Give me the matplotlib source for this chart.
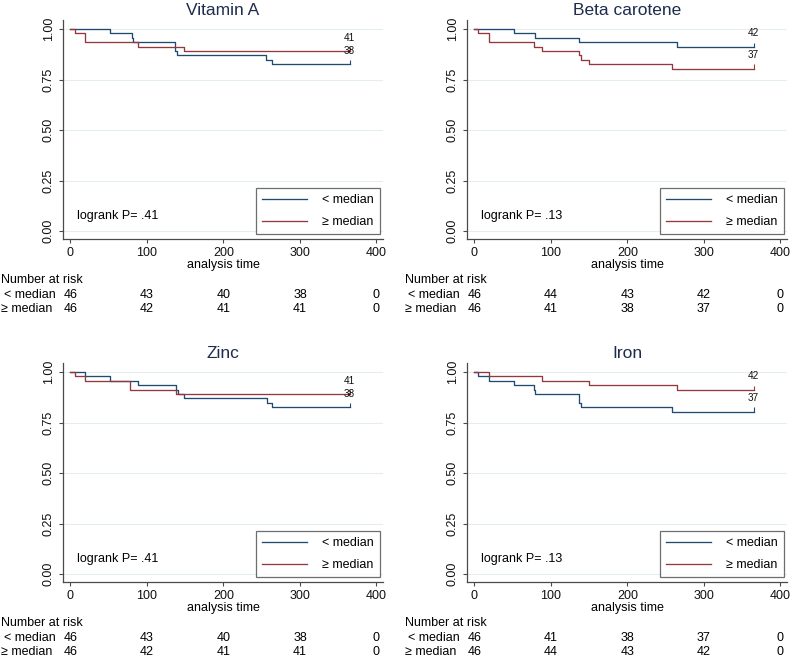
import matplotlib
matplotlib.use("Agg")
import matplotlib.pyplot as plt
import numpy as np

plt.rcParams['font.family'] = ['Liberation Sans', 'DejaVu Sans']

# ---------------- data ----------------
N_START = 46
END_TIME = 365
risk_times = [0, 100, 200, 300, 400]
group_labels = ["< median", "\u2265 median"]

titles = ["Vitamin A", "Beta carotene", "Zinc", "Iron"]
logrank_p = [".41", ".13", ".41", ".13"]

# event times (each entry = one event) per group: (< median, >= median)
vita_low = [52, 80, 82, 137, 137, 140, 256, 264]
vita_high = [6.5, 19.5, 19.5, 88, 149]
beta_low = [51.5, 79.6, 136.8, 264.5]
beta_high = [5, 18.8, 18.8, 78, 88, 137, 139, 149.5, 258.8]
zinc_low = [19.5, 52, 88, 137.6, 141, 149, 257, 264]
zinc_high = [6.5, 19.5, 78, 78, 137.6]
iron_low = [5, 18.8, 51.5, 78, 79.6, 137, 137, 139, 258.8]
iron_high = [18.8, 88, 149.5, 264.5]

# number at risk tables (< median, >= median)
vita_risk_low = [46, 43, 40, 38, 0]
vita_risk_high = [46, 42, 41, 41, 0]
beta_risk_low = [46, 44, 43, 42, 0]
beta_risk_high = [46, 41, 38, 37, 0]
zinc_risk_low = [46, 43, 40, 38, 0]
zinc_risk_high = [46, 42, 41, 41, 0]
iron_risk_low = [46, 41, 38, 37, 0]
iron_risk_high = [46, 44, 43, 42, 0]

events = [(vita_low, vita_high), (beta_low, beta_high),
          (zinc_low, zinc_high), (iron_low, iron_high)]
risks = [(vita_risk_low, vita_risk_high), (beta_risk_low, beta_risk_high),
         (zinc_risk_low, zinc_risk_high), (iron_risk_low, iron_risk_high)]

# ---------------- style ----------------
BLUE = "#1f4b73"
RED = "#93383e"
AXC = "#4a4a4a"
GRIDC = "#e6edf1"
TITLEC = "#1e2d4c"
FS = 9
TFS = 12.5

W, H = 793, 660
fig = plt.figure(figsize=(W / 100, H / 100), dpi=100)

AX_W, AX_H = 320, 219
panel_pos = [(63, 20), (467, 20), (63, 363), (467, 363)]  # left, top in px


def km(ev):
    ev = sorted(ev)
    x = [0.0] + list(ev) + [END_TIME]
    y = [1.0]
    n = N_START
    for i in range(len(ev)):
        y.append((n - (i + 1)) / n)
    y.append(y[-1])
    return np.array(x), np.array(y)


for k in range(4):
    L, T = panel_pos[k]
    ax = fig.add_axes([L / W, (H - T - AX_H) / H, AX_W / W, AX_H / H])
    ax.set_xlim(-9.5, 408.5)
    ax.set_ylim(-0.0396, 1.0446)
    for s in ["top", "right"]:
        ax.spines[s].set_visible(False)
    for s in ["left", "bottom"]:
        ax.spines[s].set_color(AXC)
        ax.spines[s].set_linewidth(0.9)
    ax.set_xticks(risk_times)
    ax.set_yticks([0, 0.25, 0.5, 0.75, 1.0])
    ax.set_yticklabels(["0.00", "0.25", "0.50", "0.75", "1.00"])
    ax.tick_params(axis="both", direction="out", length=3, width=0.8,
                   color=AXC, labelsize=FS, labelcolor="#111111")
    ax.tick_params(axis="x", pad=2.5)
    ax.tick_params(axis="y", pad=3.0)
    for lab in ax.get_yticklabels():
        lab.set_rotation(90)
        lab.set_va("center")
        lab.set_ha("right")
    ax.yaxis.grid(True, color=GRIDC, lw=0.8)
    ax.set_axisbelow(True)

    ax.set_title(titles[k], fontsize=TFS, color=TITLEC, pad=3.5)
    ax.set_xlabel("analysis time", fontsize=FS, labelpad=0.5)

    handles = []
    for g, col in enumerate([BLUE, RED]):
        x, y = km(events[k][g])
        h, = ax.step(x, y, where="post", color=col, lw=0.95)
        handles.append(h)
        ax.vlines(END_TIME, y[-1], y[-1] + 0.02, color=col, lw=0.8)
        ax.text(END_TIME, y[-1] + 0.065, str(risks[k][g][3]), fontsize=FS * 0.8,
                ha="center", va="center", color="#111111")

    ax.text(9, 0.074, "logrank P= " + logrank_p[k], fontsize=FS,
            ha="left", va="center")

    leg = ax.legend(handles, group_labels, loc="lower right",
                    bbox_to_anchor=(0.991, 0.021), borderaxespad=0,
                    fontsize=FS, frameon=True, fancybox=False,
                    handlelength=3.6, handletextpad=1.2, labelspacing=0.8,
                    borderpad=0.5)
    leg.get_frame().set_edgecolor(AXC)
    leg.get_frame().set_linewidth(0.9)

    # number at risk table
    def yoff(px):
        return -px / AX_H

    ax.text((1 - 63) / AX_W, yoff(41), "Number at risk", transform=ax.transAxes,
            fontsize=FS, ha="left", va="center")
    row_x = [(4 - 63) / AX_W, (1 - 63) / AX_W]
    row_y = [56, 70]
    for g in range(2):
        ax.text(row_x[g], yoff(row_y[g]), group_labels[g], transform=ax.transAxes,
                fontsize=FS, ha="left", va="center")
        for t, v in zip(risk_times, risks[k][g]):
            ax.annotate(str(v), xy=(t, 0), xycoords=("data", "axes fraction"),
                        xytext=(0, -row_y[g] * 0.72), textcoords="offset points",
                        fontsize=FS, ha="center", va="center", annotation_clip=False)

fig.savefig("out.png", dpi=100)
